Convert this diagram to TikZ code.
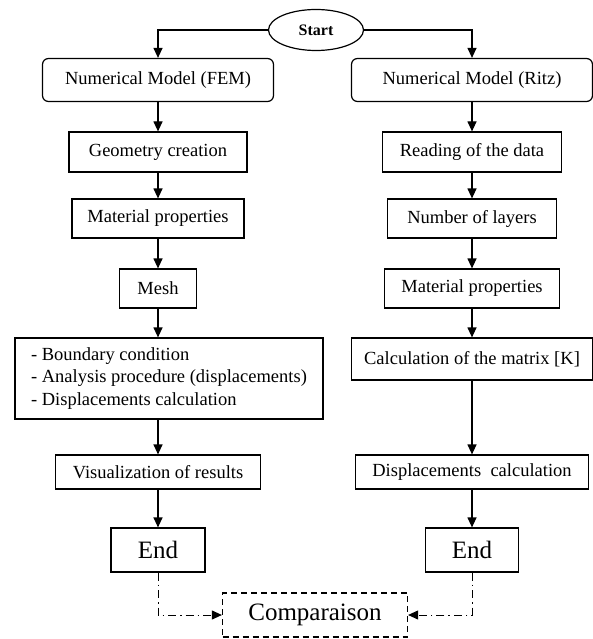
\documentclass[tikz,border=0pt]{standalone}
\usepackage{fontspec}
\setmainfont{Liberation Serif}
\usetikzlibrary{shapes.geometric, arrows.meta}

\begin{document}
\begin{tikzpicture}[x=1pt, y=-1pt, line width=1.2pt,
  box/.style={draw, font=\fontsize{18.5}{22.5}\selectfont, inner sep=0pt, minimum height=39pt},
  roundbox/.style={box, rounded corners=6pt, minimum height=43pt},
  endbox/.style={draw, font=\fontsize{25}{28}\selectfont, inner sep=0pt,
    minimum width=94pt, minimum height=44pt},
  arr/.style={-{Triangle[width=9pt,length=10pt]}},
  dotarr/.style={line width=1pt, dash pattern=on 8pt off 4pt on 1.5pt off 4pt,
    -{Triangle[width=9pt,length=10pt]}},
]
  \useasboundingbox (0,0) rectangle (593,639);
  \node[draw, ellipse, font=\fontsize{16}{18}\selectfont\bfseries, inner sep=0pt,
    minimum width=95pt, minimum height=41pt] (start) at (316,30) {Start};
  % FEM
  \node[roundbox, minimum width=231pt] (fem) at (158,80) {Numerical Model (FEM)};
  \node[box, minimum width=178pt, minimum height=40pt] (geo) at (158,152) {Geometry creation};
  \node[box, minimum width=172pt] (mat1) at (158,218.5) {Material properties};
  \node[box, minimum width=77pt] (mesh) at (158,288.5) {Mesh};
  \node[box, minimum width=308pt, minimum height=81pt, align=left]
    (bc) at (169,378.5) {- Boundary condition\\- Analysis procedure (displacements)\\- Displacements calculation};
  \node[box, minimum width=205pt, minimum height=34pt] (vis) at (158,472) {Visualization of results};
  \node[endbox] (endl) at (158,550) {End};
  % Ritz
  \node[roundbox, minimum width=241pt] (ritz) at (472,80) {Numerical Model (Ritz)};
  \node[box, minimum width=179pt, minimum height=40pt] (read) at (472,152) {Reading of the data};
  \node[box, minimum width=169pt] (layers) at (472,218.5) {Number of layers};
  \node[box, minimum width=175pt] (mat2) at (472,288.5) {Material properties};
  \node[box, minimum width=241pt, minimum height=42pt] (calc) at (472,359) {Calculation of the matrix [K]};
  \node[box, minimum width=233pt, minimum height=34pt] (disp) at (472,472) {Displacements\ \ calculation};
  \node[endbox, minimum width=93pt] (endr) at (472,550) {End};
  \node[endbox, dashed, dash pattern=on 6pt off 4pt, minimum width=185pt] (comp) at (315,615) {Comparaison};

  \draw[arr] (start.west) -| (fem.north);
  \draw[arr] (start.east) -| (ritz.north);
  \foreach \a/\b in {fem/geo, geo/mat1, mat1/mesh, vis/endl,
    ritz/read, read/layers, layers/mat2, mat2/calc, calc/disp, disp/endr}
    \draw[arr] (\a) -- (\b);
  \draw[arr] (mesh) -- (mesh |- bc.north);
  \draw[arr] (bc.south -| vis) -- (vis);
  \draw[dotarr] (endl) |- (comp);
  \draw[dotarr] (endr) |- (comp);
\end{tikzpicture}
\end{document}
